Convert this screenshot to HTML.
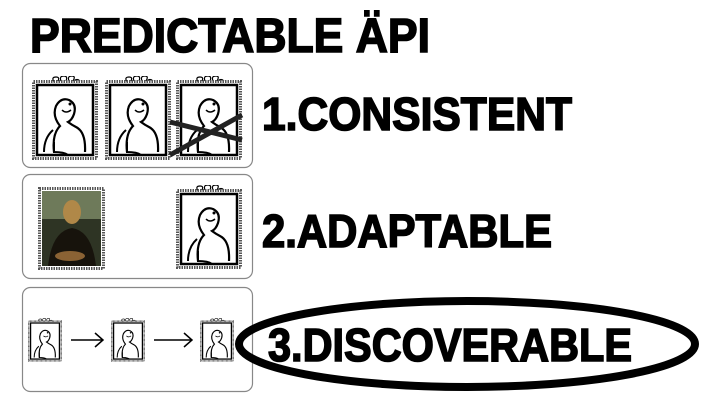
<!DOCTYPE html>
<html><head><meta charset="utf-8"><style>
html,body{margin:0;padding:0;background:#fff;width:720px;height:405px;overflow:hidden}
text{font-family:"Liberation Sans",sans-serif;font-weight:bold;fill:#000;stroke:#000;stroke-width:1.6}
</style></head><body>
<svg width="720" height="405" viewBox="0 0 720 405" xmlns="http://www.w3.org/2000/svg">
<defs>
<symbol id="fr" viewBox="0 0 66 84">
  <path d="M22 6 q-3 -5 2 -5 q4 0 2 4 M29 5 q-2 -5 3 -5 q4 0 2 5 M37 5 q-2 -5 3 -5 q4 0 1 5 M42 5 q3 -3 6 0" fill="none" stroke="#000" stroke-width="1.2"/>
  <rect x="1.5" y="5.5" width="63" height="77" fill="#fff" stroke="#555" stroke-width="3" stroke-dasharray="1.5 1"/>
  <rect x="5" y="9" width="56" height="70" fill="#fff" stroke="#000" stroke-width="2.5"/>
  <path d="M22 76 q-2 -18 6 -26 q-8 -10 -4 -20 q5 -9 13 -6 q8 4 5 14 q-2 6 -6 8 q4 3 8 5 q10 5 9 25" fill="none" stroke="#000" stroke-width="2.2"/>
  <path d="M12 76 q0 -14 9 -22 M22 66 q0 8 0 10 q10 0 14 3" fill="none" stroke="#000" stroke-width="2"/>
  <path d="M30 34 q4 4 9 0" fill="none" stroke="#000" stroke-width="1.5"/>
  <circle cx="38" cy="28" r="1.5"/>
</symbol>
</defs>
<text x="30" y="52" font-size="48" textLength="400" lengthAdjust="spacingAndGlyphs">PREDICTABLE ÄPI</text>
<rect x="22.5" y="63.5" width="230" height="104" rx="8" fill="#fff" stroke="#888" stroke-width="1.2"/>
<rect x="22.5" y="174.5" width="230" height="104" rx="8" fill="#fff" stroke="#888" stroke-width="1.2"/>
<rect x="22.5" y="287.5" width="230" height="104" rx="8" fill="#fff" stroke="#888" stroke-width="1.2"/>
<use href="#fr" x="32" y="76" width="66" height="84"/>
<use href="#fr" x="105" y="76" width="66" height="84"/>
<use href="#fr" x="176" y="76" width="66" height="84"/>
<path d="M170 155 L242 115 M170 122 L242 140" stroke="#222" stroke-width="5"/>
<g>
  <rect x="39.5" y="188.5" width="64" height="80" fill="#fff" stroke="#555" stroke-width="3" stroke-dasharray="1.5 1"/>
  <rect x="42" y="191" width="59" height="75" fill="#2e3424"/>
  <rect x="42" y="191" width="59" height="28" fill="#6e7a5a"/>
  <ellipse cx="72" cy="212" rx="9" ry="12" fill="#b08848"/>
  <path d="M48 266 q4 -35 24 -38 q20 3 24 38z" fill="#17130c"/>
  <ellipse cx="70" cy="256" rx="15" ry="5" fill="#8a6234"/>
</g>
<use href="#fr" x="176" y="185" width="66" height="84"/>
<use href="#fr" x="28" y="318" width="34" height="44"/>
<use href="#fr" x="111" y="318" width="34" height="44"/>
<use href="#fr" x="200" y="318" width="34" height="44"/>
<path d="M71 340 H103 M95 333 L103 340 L95 347 M154 340 H192 M184 333 L192 340 L184 347" fill="none" stroke="#000" stroke-width="1.5"/>
<text x="262" y="130" font-size="46" textLength="310" lengthAdjust="spacingAndGlyphs">1.CONSISTENT</text>
<text x="262" y="247" font-size="46" textLength="290" lengthAdjust="spacingAndGlyphs">2.ADAPTABLE</text>
<text x="268" y="361" font-size="46" textLength="364" lengthAdjust="spacingAndGlyphs">3.DISCOVERABLE</text>
<ellipse cx="467" cy="344" rx="228" ry="43" fill="none" stroke="#000" stroke-width="8"/>
</svg>
</body></html>
